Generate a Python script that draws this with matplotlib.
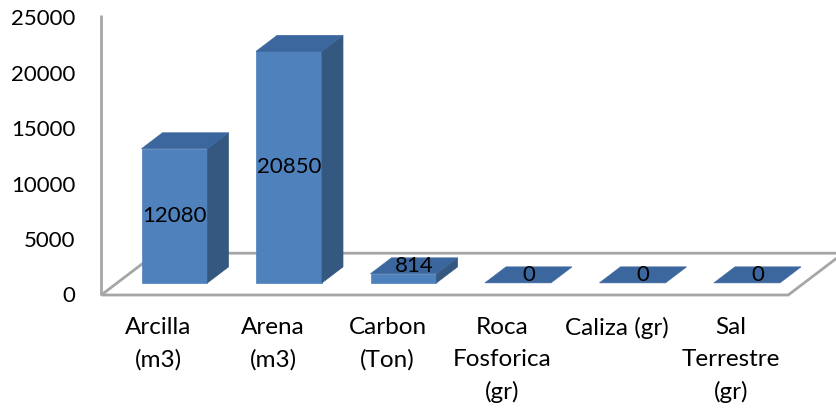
import matplotlib.pyplot as plt
from matplotlib.patches import Polygon

categorias = ["Arcilla\n(m3)", "Arena\n(m3)", "Carbon\n(Ton)",
              "Roca\nFosforica\n(gr)", "Caliza (gr)", "Sal\nTerrestre\n(gr)"]
valores = [12080, 20850, 814, 0, 0, 0]
ticks_y = [0, 5000, 10000, 15000, 20000, 25000]

# geometria en pixeles del "3D" falso
W, H = 836, 413
X0 = 158.5    # px de la primera categoria en el plano frontal
PASO = 114.5  # px entre categorias
Y0 = 295      # px del valor 0 en el plano frontal
ESC = 11.1    # px por cada 1000
PEND = 0.76   # inclinacion de la profundidad
FONDO = 55    # profundidad del piso (px en x)
BAR_Z0, BAR_Z1 = 16, 37   # profundidad de las barras
ANCHO = 0.576             # ancho de barra (unidades de categoria)

FRENTE = '#4f81bd'
TAPA = '#3c679e'
LADO = '#34587f'
GRIS = '#a6a6a6'

plt.rcParams['font.family'] = ['Lato', 'DejaVu Sans']
FS = 16         # numeros
FS_CAT = 17.5   # categorias


def prof(x, y, z):
    # desplaza un punto hacia el fondo z px
    return (x + z / PASO, y + z * PEND / ESC * 1000)


fig = plt.figure(figsize=(W / 100, H / 100), dpi=100)
ax = fig.add_axes([0, 0, 1, 1])
ax.set_xlim(-X0 / PASO, (W - X0) / PASO)
ax.set_ylim(-(H - Y0) / ESC * 1000, Y0 / ESC * 1000)
ax.axis('off')

# piso
x_izq, x_der = -0.5, len(categorias) - 0.5
piso = [(x_izq, 0), (x_der, 0), prof(x_der, 0, FONDO), prof(x_izq, 0, FONDO)]
ax.add_patch(Polygon(piso, closed=True, facecolor='white', edgecolor=GRIS, lw=2, zorder=1))
# eje vertical
ax.plot([x_izq, x_izq], [0, 25250], color=GRIS, lw=2, zorder=1, solid_capstyle='butt')

for i, v in enumerate(valores):
    a, b = i - ANCHO / 2, i + ANCHO / 2
    fa = prof(a, 0, BAR_Z0)
    fb = prof(b, 0, BAR_Z0)
    frente = [fa, fb, (fb[0], fb[1] + v), (fa[0], fa[1] + v)]
    tope = [(fa[0], fa[1] + v), (fb[0], fb[1] + v),
            prof(b, v, BAR_Z1), prof(a, v, BAR_Z1)]
    lado = [fb, prof(b, 0, BAR_Z1), prof(b, v, BAR_Z1), (fb[0], fb[1] + v)]
    if v > 0:
        ax.add_patch(Polygon(frente, closed=True, fc=FRENTE, ec=FRENTE, lw=0.5, zorder=3))
        ax.add_patch(Polygon(lado, closed=True, fc=LADO, ec=LADO, lw=0.5, zorder=3))
    ax.add_patch(Polygon(tope, closed=True, fc=TAPA, ec=TAPA, lw=0.5, zorder=3))

    # etiqueta de dato
    alto_px = v / 1000 * ESC
    if alto_px > 22:
        tx, ty = fa[0] + ANCHO / 2, fa[1] + v / 2
    else:
        zc = (BAR_Z0 + BAR_Z1) / 2
        tx, ty = prof(i, v, zc)
    ax.text(tx, ty, f"{v}", ha='center', va='center', fontsize=FS, color='black', zorder=5)

    # etiqueta de categoria
    ax.text(i, -22 / ESC * 1000, categorias[i], ha='center', va='top', fontsize=FS_CAT,
            linespacing=1.62, color='black')

# etiquetas del eje y
for t in ticks_y:
    ax.text(x_izq - 26 / PASO, t - 1.5 / ESC * 1000, f"{t}", ha='right', va='center',
            fontsize=FS, color='black')

fig.savefig('out.png', dpi=100)
